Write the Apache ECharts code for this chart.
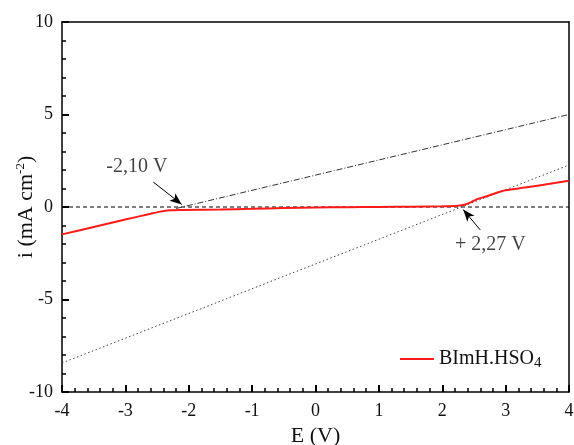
<!DOCTYPE html>
<html>
<head>
<meta charset="utf-8">
<script src="https://cdn.jsdelivr.net/npm/echarts@6/dist/echarts.min.js"></script>
<style>
    html, body { margin: 0; padding: 0; background: #fff; }
    #area { width: 574px; height: 445px; }
</style>
</head>
<body>
<div id="area"></div>
<script>
// measured curve
let curveE = [-4, -3.5, -3, -2.6, -2.45, -2.3, -2.1, -1.5, -1, -0.5, 0, 0.5, 1, 1.5, 2, 2.25, 2.35, 2.45, 2.55, 2.7, 2.85, 3, 3.3, 3.6, 4];
let curveI = [-1.48, -1.08, -0.68, -0.36, -0.25, -0.18, -0.16, -0.13, -0.1, -0.06, -0.03, -0.01, 0.0, 0.02, 0.04, 0.07, 0.12, 0.25, 0.42, 0.58, 0.76, 0.9, 1.05, 1.2, 1.42];
// tangent lines
let upperLine = [[-2.2, -0.08], [4, 5]];
let lowerLine = [[-4, -8.43], [4, 2.27]];
let zeroLine = [[-4, 0], [4, 0]];
// annotations
let labels = [{value: [-2.82, 2.2], text: '-2,10 V'}, {value: [2.76, -2.05], text: '+ 2,27 V'}];
let arrows = [[[-2.56, 1.35], [-2.11, 0.14]], [[2.6, -1.24], [2.33, -0.14]]];
let seriesName = 'BImH.HSO4';

let myChart = echarts.init(document.getElementById('area'));
let font = 'Liberation Serif';

let curve = curveE.map((e, i) => [e, curveI[i]]);

// top and right axes only close the box
let boxAxis = {
    type: 'value', axisLine: {show: true, onZero: false, lineStyle: {color: '#000', width: 1.5}},
    axisTick: {show: false}, axisLabel: {show: false}, splitLine: {show: false}
};

const option = {
    animation: false,
    grid: {left: 62, right: 5, top: 22, bottom: 53, outerBoundsMode: 'none'},
    legend: {
        left: 400, top: 349, padding: 0,
        itemWidth: 34, itemHeight: 2,
        icon: 'rect',
        data: [seriesName],
        formatter: function () { return '{a|BImH.HSO}{s|4}'; },
        textStyle: {
            rich: {
                a: {fontFamily: font, fontSize: 20, color: '#111'},
                s: {fontFamily: font, fontSize: 15, color: '#111', padding: [9, 0, 0, 0]}
            }
        }
    },
    xAxis: [{
        type: 'value', min: -4, max: 4, interval: 1,
        name: 'E (V)', nameLocation: 'middle', nameGap: 33, nameMoveOverlap: false,
        nameTextStyle: {fontFamily: font, fontSize: 22, color: '#111'},
        axisLine: {show: true, onZero: false, lineStyle: {color: '#000', width: 1.5}},
        axisTick: {show: true, inside: true, length: 7, lineStyle: {color: '#000', width: 2}},
        minorTick: {show: true, splitNumber: 5, length: 4, lineStyle: {color: '#000', width: 1.5}},
        axisLabel: {fontFamily: font, fontSize: 18, color: '#111', margin: 10},
        splitLine: {show: false}
    }, Object.assign({position: 'top', min: -4, max: 4}, boxAxis)],
    yAxis: [{
        type: 'value', min: -10, max: 10, interval: 5,
        name: '{a|i (mA cm}{s|-2}{a|)}', nameLocation: 'middle', nameGap: 23, nameMoveOverlap: false,
        nameTextStyle: {
            rich: {
                a: {fontFamily: font, fontSize: 22, color: '#111'},
                s: {fontFamily: font, fontSize: 13, color: '#111', padding: [0, 0, 12, 0]}
            }
        },
        axisLine: {show: true, onZero: false, lineStyle: {color: '#000', width: 1.5}},
        axisTick: {show: true, inside: true, length: 7, lineStyle: {color: '#000', width: 2}},
        minorTick: {show: true, splitNumber: 5, length: 4, lineStyle: {color: '#000', width: 1.5}},
        axisLabel: {fontFamily: font, fontSize: 18, color: '#111', margin: 9},
        splitLine: {show: false}
    }, Object.assign({position: 'right', min: -10, max: 10}, boxAxis)],
    series: [
        {
            name: 'zero', type: 'line', symbol: 'none', data: zeroLine, z: 1,
            lineStyle: {color: '#000', width: 1, type: [4, 3]}
        },
        {
            name: 'upper', type: 'line', symbol: 'none', data: upperLine, z: 1,
            lineStyle: {color: '#333', width: 1, type: [6, 2, 1, 2]}
        },
        {
            name: 'lower', type: 'line', symbol: 'none', data: lowerLine, z: 1,
            lineStyle: {color: '#444', width: 1, type: [1.5, 2.5]}
        },
        {
            name: seriesName, type: 'line', symbol: 'none', data: curve, smooth: 0.3, z: 3,
            itemStyle: {color: '#ff1a1a'},
            lineStyle: {color: '#ff1a1a', width: 2}
        },
        {
            name: 'notes', type: 'scatter', symbolSize: 0, z: 4,
            data: labels.map(l => ({value: l.value, label: {formatter: l.text}})),
            label: {show: true, position: 'inside', fontFamily: font, fontSize: 20, color: '#111'},
            markLine: {
                silent: true, symbol: ['none', 'arrow'], symbolSize: [7, 12],
                label: {show: false},
                lineStyle: {color: '#000', width: 1, type: 'solid'},
                data: arrows.map(a => [{coord: a[0]}, {coord: a[1]}])
            }
        }
    ]
};

option && myChart.setOption(option);
</script>
</body>
</html>
